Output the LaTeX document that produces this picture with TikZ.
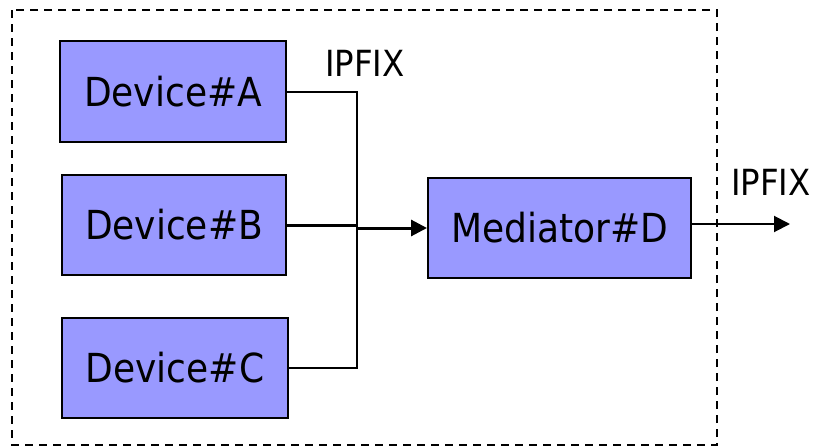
\documentclass[tikz,border=0pt]{standalone}
\usepackage{fontspec}
\setmainfont{DejaVu Sans Condensed}
\usetikzlibrary{arrows.meta}
\definecolor{boxblue}{RGB}{153,153,255}
\begin{document}
\begin{tikzpicture}[x=1pt,y=-1pt,
  devbox/.style={draw=black, line width=2pt, fill=boxblue, inner sep=0pt,
    font=\fontsize{40}{44}\selectfont},
  link/.style={line width=2pt},
  mainlink/.style={line width=3pt},
  tip/.style={-{Triangle[length=16pt,width=16pt]}},
  lbl/.style={font=\fontsize{36}{40}\selectfont, inner sep=0pt}]
  \useasboundingbox (0,0) rectangle (819,447);
  % enclosing domain
  \draw[dash pattern=on 8pt off 6pt, line width=2pt] (12,10) rectangle (717,445);
  % devices and mediator
  \node[devbox, minimum width=226pt, minimum height=101pt] (A) at (173,91.5) {Device\#A};
  \node[devbox, minimum width=224pt, minimum height=100pt] (B) at (174,225) {Device\#B};
  \node[devbox, minimum width=226pt, minimum height=100pt] (C) at (175,368) {Device\#C};
  \node[devbox, minimum width=263pt, minimum height=100pt] (D) at (559.5,228) {Mediator\#D};
  % junction and exit point
  \coordinate (j) at (357,228);
  \coordinate (out) at (790,224);
  % merging connectors
  \draw[link] (A.east) -- (A.east -| j) -- (C.east -| j) -- (C.east);
  \draw[mainlink] (B.east) -- (B.east -| j);
  \draw[mainlink, tip] (j) -- (D.west);
  \draw[link, tip] (D.east |- out) -- (out);
  % protocol labels
  \node[lbl] (l1) at (365,63) {IPFIX};
  \node[lbl] (l2) at (771,182) {IPFIX};
\end{tikzpicture}
\end{document}
